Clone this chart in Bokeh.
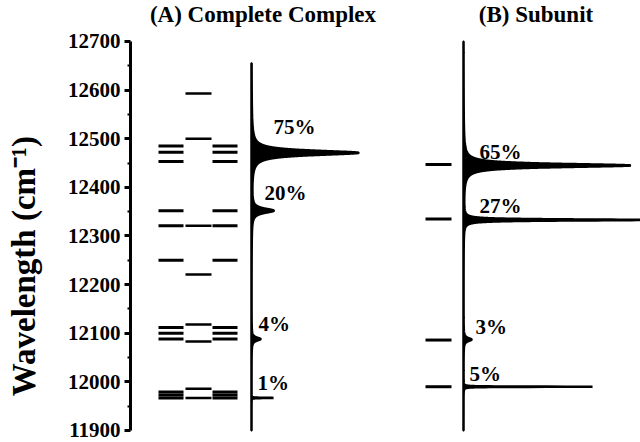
import numpy as np
from bokeh.plotting import figure
from bokeh.layouts import row
from bokeh.models import Range1d, FixedTicker, ColumnDataSource
from bokeh.core.properties import value
from bokeh.embed import file_html
from bokeh.resources import INLINE

# ---------------- data ----------------
TITLES = ["(A) Complete Complex", "(B) Subunit"]
Y_LABEL = "Wavelength (cm\u207b\u00b9)"
Y_TICKS = [11900, 12000, 12100, 12200, 12300, 12400, 12500, 12600, 12700]
Y_MINOR = [11950, 12050, 12150, 12250, 12350, 12450, 12550, 12650]

# exciton energy levels (cm-1)
LEVELS_A_OUTER = [12485, 12472, 12453, 12352, 12321, 12250,
                  12112, 12100, 12088, 11979, 11973, 11967]
LEVELS_A_CENTER = [12593, 12500, 12321, 12221, 12118, 12083, 11986, 11967]
LEVELS_B = [12447, 12335, 12086, 11990]

# absorption peaks: centre (cm-1), height (arb.), half width (cm-1), share
PEAK_A_CENTER = [12471, 12352, 12088, 11967]
PEAK_A_HEIGHT = [107, 22, 9, 22]
PEAK_A_HWHM = [5.5, 5.5, 4.0, 0.4]
PEAK_A_LABEL = ["75%", "20%", "4%", "1%"]
SPEC_A_SPAN = (11900, 12655)

PEAK_B_CENTER = [12445, 12333, 12087, 11990]
PEAK_B_HEIGHT = [167, 180, 8, 129]
PEAK_B_HWHM = [4.0, 1.5, 4.0, 0.4]
PEAK_B_LABEL = ["65%", "27%", "3%", "5%"]
SPEC_B_SPAN = (11900, 12700)

# ---------------- layout ----------------
W, H = 640, 442
LW = 44                 # width of the strip holding the axis title
AXIS_X = 130            # x of the y axis line in the page
FONT = "Liberation Serif"
Y_RANGE = (11875.3, 12784.3)

COLS_A = [(29, 54), (56, 82), (83, 108)]
BASE_A = 122
COL_B = (296, 322)
BASE_B = 334
LBL_A_DX = [22, 13, 7, 6]
LBL_A_DY = [26, 18, 15, 15]
LBL_B_DX = [16, 16, 12, 6]
LBL_B_DY = [13, 14, 13, 13]
TITLE_X = [133.5, 406.5]
TITLE_Y = 12756
YLABEL_X = 23
YLABEL_Y = 12238

# strip with the rotated axis title
q = figure(width=LW, height=H, output_backend="svg", toolbar_location=None,
           title=None, x_axis_location=None, y_axis_location=None,
           x_range=Range1d(0, LW), y_range=Range1d(*Y_RANGE),
           min_border_left=0, min_border_right=0,
           min_border_top=0, min_border_bottom=0)
q.outline_line_color = None
q.grid.visible = False
q.text(x=[YLABEL_X], y=[YLABEL_Y], text=[Y_LABEL], angle=np.pi / 2,
       text_font=value(FONT), text_font_style="bold", text_font_size="33px",
       text_color="black", text_align="center", text_baseline="middle")

# main plot
left = AXIS_X - LW
p = figure(width=W - LW, height=H, output_backend="svg", toolbar_location=None,
           title=None, x_axis_location=None,
           x_range=Range1d(AXIS_X - 129, W - 129), y_range=Range1d(*Y_RANGE),
           min_border_left=left, min_border_right=0,
           min_border_top=0, min_border_bottom=0)
p.outline_line_color = None
p.grid.visible = False

ax = p.yaxis[0]
ax.ticker = FixedTicker(ticks=Y_TICKS, minor_ticks=Y_MINOR)
ax.bounds = (Y_TICKS[0], Y_TICKS[-1])
ax.axis_line_width = 3
ax.axis_line_color = "black"
ax.major_tick_line_width = 3
ax.major_tick_out = 6
ax.major_tick_in = 0
ax.minor_tick_line_width = 2
ax.minor_tick_out = 3
ax.minor_tick_in = 0
ax.major_label_standoff = 4
ax.major_label_text_font = FONT
ax.major_label_text_font_style = "bold"
ax.major_label_text_font_size = "21px"
ax.major_label_text_color = "black"

# energy levels
def add_levels(levels, col, lw=3):
    src = ColumnDataSource(dict(y=levels, x0=[col[0]] * len(levels),
                                x1=[col[1]] * len(levels)))
    p.segment(x0="x0", x1="x1", y0="y", y1="y", source=src,
              line_width=lw, line_color="black")

add_levels(LEVELS_A_OUTER, COLS_A[0])
add_levels(LEVELS_A_CENTER, COLS_A[1], lw=2.5)
add_levels(LEVELS_A_OUTER, COLS_A[2])
add_levels(LEVELS_B, COL_B)

# spectra as Lorentzian sums
def spectrum(span, centers, heights, hwhm, step=0.1):
    y = np.arange(span[0], span[1] + step / 2, step)
    s = np.zeros_like(y)
    for c, h, g in zip(centers, heights, hwhm):
        s += h * g * g / ((y - c) ** 2 + g * g)
    return y, s

def add_spectrum(base, span, centers, heights, hwhm, labels, dx, dy):
    y, s = spectrum(span, centers, heights, hwhm)
    xs = np.concatenate([base + s, [base, base]])
    ys = np.concatenate([y, [y[-1], y[0]]])
    p.patch(xs, ys, fill_color="black", line_color="black", line_width=2.5)
    p.text(x=[base + d for d in dx], y=centers, text=labels,
           y_offset=[-d for d in dy],
           text_font=value(FONT), text_font_style="bold",
           text_font_size="21px", text_color="black",
           text_align="left", text_baseline="middle")

add_spectrum(BASE_A, SPEC_A_SPAN, PEAK_A_CENTER, PEAK_A_HEIGHT, PEAK_A_HWHM,
             PEAK_A_LABEL, LBL_A_DX, LBL_A_DY)
add_spectrum(BASE_B, SPEC_B_SPAN, PEAK_B_CENTER, PEAK_B_HEIGHT, PEAK_B_HWHM,
             PEAK_B_LABEL, LBL_B_DX, LBL_B_DY)

# panel titles
p.text(x=TITLE_X, y=[TITLE_Y] * 2, text=TITLES,
       text_font=value(FONT), text_font_style="bold", text_font_size="23px",
       text_color="black", text_align="center", text_baseline="middle")

layout = row(q, p, spacing=0)
open("out.html", "w").write(file_html(layout, INLINE))
